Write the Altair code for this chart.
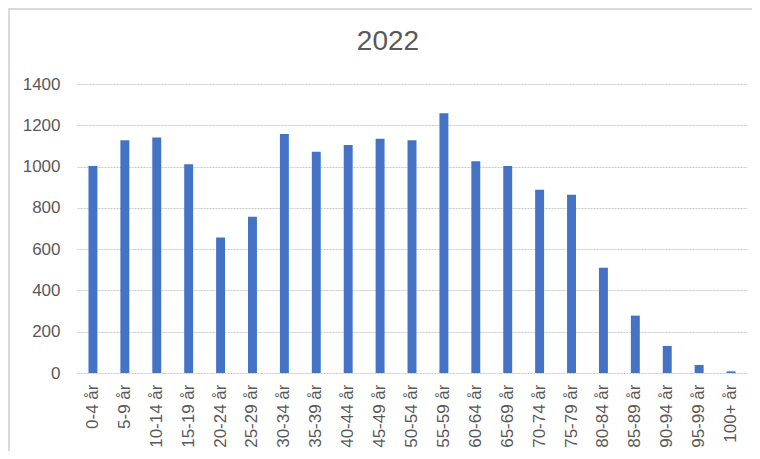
import altair as alt
import pandas as pd

categories = ["0-4 år", "5-9 år", "10-14 år", "15-19 år", "20-24 år", "25-29 år",
              "30-34 år", "35-39 år", "40-44 år", "45-49 år", "50-54 år", "55-59 år",
              "60-64 år", "65-69 år", "70-74 år", "75-79 år", "80-84 år", "85-89 år",
              "90-94 år", "95-99 år", "100+ år"]
values = [1003, 1127, 1141, 1011, 657, 757, 1158, 1072, 1105, 1135, 1127, 1258,
          1026, 1003, 888, 864, 510, 278, 131, 39, 8]
y_ticks = [0, 200, 400, 600, 800, 1000, 1200, 1400]
title_text = ["2022"]

df = pd.DataFrame({"cat": categories, "val": values})

FONT = "Liberation Sans"
TXT = "#595959"

bars = alt.Chart(df).mark_bar(color="#4472C4").encode(
    x=alt.X("cat:N", sort=categories, title=None,
            scale=alt.Scale(paddingInner=0.72, paddingOuter=0.36),
            axis=alt.Axis(labelAngle=-90, labelFont=FONT, labelFontSize=17,
                          labelColor=TXT, ticks=False, domain=False,
                          labelPadding=11, grid=False)),
    y=alt.Y("val:Q", title=None,
            scale=alt.Scale(domain=[0, 1400], nice=False),
            axis=alt.Axis(values=y_ticks, format="d", labelFont=FONT, labelFontSize=17,
                          labelColor=TXT, ticks=False, domain=False,
                          labelPadding=17, grid=True, gridColor="#c8c8c8",
                          gridDash=[2, 1], gridWidth=1)),
)

title = alt.Chart(pd.DataFrame({"t": title_text})).mark_text(
    font=FONT, fontSize=28, color=TXT, align="center", baseline="alphabetic"
).encode(text="t:N", x=alt.value(311), y=alt.value(-34))

border_left = alt.Chart(df).mark_rule(color="#d9d9d9", strokeWidth=2).encode(
    x=alt.value(-68), y=alt.value(-76), y2=alt.value(367)
)
border_top = alt.Chart(df).mark_rule(color="#d9d9d9", strokeWidth=2).encode(
    x=alt.value(-69), x2=alt.value(675), y=alt.value(-75)
)

chart = alt.layer(bars, title, border_left, border_top).properties(
    width=670, height=289,
    autosize=alt.AutoSizeParams(type="none"),
    padding={"left": 69, "top": 76, "right": 5, "bottom": 78},
).configure_view(stroke=None)

chart.save("out.html", embed_options={"renderer": "svg", "actions": False})
